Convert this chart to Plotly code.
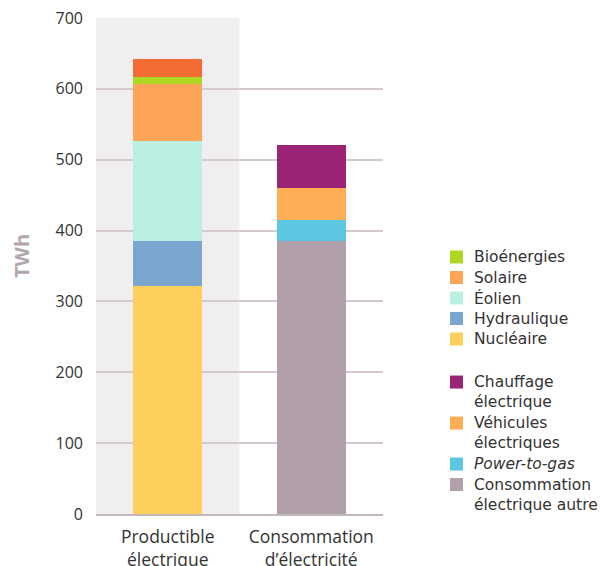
import plotly.graph_objects as go

# Categories on the x axis
categories = ["Productible<br>électrique", "Consommation<br>d’électricité"]

# Production mix (TWh), stacked bottom to top
nucleaire = 322
hydraulique = 63
eolien = 142
solaire = 80
bioenergies = 10
autres_prod = 25

# Consumption breakdown (TWh), stacked bottom to top
conso_autre = 385
power_to_gas = 30
vehicules = 45
chauffage = 61

# (label, value, colour, listed in key)
prod_series = [
    ("Nucléaire", nucleaire, "#FDCF5B", True),
    ("Hydraulique", hydraulique, "#7BA6D0", True),
    ("Éolien", eolien, "#BBEFE1", True),
    ("Solaire", solaire, "#FEA456", True),
    ("Bioénergies", bioenergies, "#AED723", True),
    ("Autres", autres_prod, "#F46B34", False),
]
conso_series = [
    ("Consommation<br>électrique autre", conso_autre, "#B1A0A9", True),
    ("<i>Power-to-gas</i>", power_to_gas, "#5DC6E1", True),
    ("Véhicules<br>électriques", vehicules, "#FEAE55", True),
    ("Chauffage<br>électrique", chauffage, "#9C2477", True),
]

W, H = 603, 566
M_L, M_R, M_T, M_B = 96, 220, 18, 52
PW, PH = W - M_L - M_R, H - M_T - M_B


def px_x(px):
    return (px - M_L) / PW


def px_y(py):
    return (H - M_B - py) / PH


fig = go.Figure()

for cat, series in ((categories[0], prod_series), (categories[1], conso_series)):
    for name, val, color, _ in series:
        fig.add_trace(go.Bar(
            x=[cat], y=[val], name=name, marker_color=color,
            marker_line_width=0, showlegend=False, width=0.48,
        ))

# Shaded band behind the production column
fig.add_shape(type="rect", xref="x", yref="paper", x0=-0.5, x1=0.5, y0=0, y1=1,
              fillcolor="#F1EEEF", line_width=0, layer="below")

# Key on the right: two groups, top of stack listed first
LINE_H = 20.5
KEY_TOP = 257          # centre of the first key line (px)
KEY_SW_X = 450         # left edge of swatches (px)
KEY_TXT_X = 472        # left edge of labels (px)
SW = 13
KEY_FONT = dict(family="DejaVu Sans", size=15.5, color="#333333")

groups = [
    [(n, c) for n, _, c, show in reversed(prod_series) if show],
    [(n, c) for n, _, c, show in reversed(conso_series) if show],
]
row = 0
for gi, group in enumerate(groups):
    if gi > 0:
        row += 1.1
    for name, color in group:
        nlines = name.count("<br>") + 1
        yc = KEY_TOP + row * LINE_H
        fig.add_shape(type="rect", xref="paper", yref="paper",
                      x0=px_x(KEY_SW_X), x1=px_x(KEY_SW_X + SW),
                      y0=px_y(yc + SW / 2), y1=px_y(yc - SW / 2),
                      fillcolor=color, line_width=0)
        fig.add_annotation(xref="paper", yref="paper",
                           x=px_x(KEY_TXT_X), y=px_y(yc + (nlines - 1) * LINE_H / 2),
                           xanchor="left", yanchor="middle", align="left",
                           text=name, showarrow=False, font=KEY_FONT)
        row += nlines

# Axis title
fig.add_annotation(xref="paper", yref="paper", x=px_x(21), y=px_y(256),
                   text="<b>TWh</b>", textangle=-90, showarrow=False,
                   xanchor="center", yanchor="middle",
                   font=dict(family="Open Sans", size=20, color="#B4A5AD"))

fig.update_layout(
    barmode="stack",
    width=W, height=H,
    margin=dict(l=M_L, r=M_R, t=M_T, b=M_B, autoexpand=False),
    paper_bgcolor="white",
    plot_bgcolor="white",
    font=dict(family="Open Sans", size=15, color="#333333"),
    showlegend=False,
    xaxis=dict(
        range=[-0.5, 1.5], showgrid=False, showline=True, automargin=False,
        linecolor="#C4B8BE", linewidth=2, ticks="", ticklabelstandoff=6,
        tickfont=dict(family="Open Sans", size=17.5, color="#333333"),
    ),
    yaxis=dict(
        range=[0, 700], dtick=100, showgrid=True, gridcolor="#D3C9CE",
        gridwidth=1.5, zeroline=False, showline=False, ticks="",
        automargin=False, ticklabelstandoff=12,
        tickfont=dict(family="Open Sans", size=16, color="#333333"),
    ),
)

fig.write_html("out.html")
